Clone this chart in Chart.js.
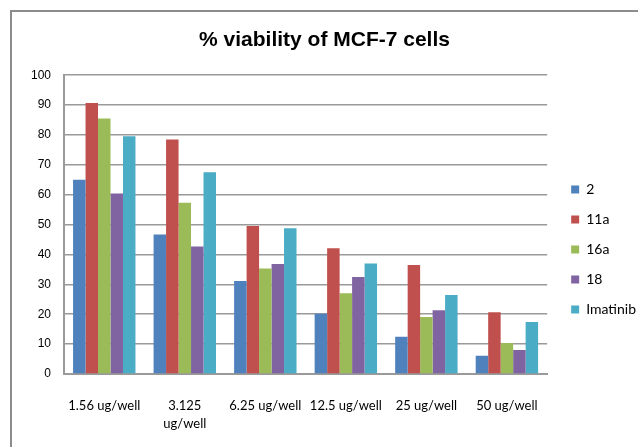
<!DOCTYPE html>
<html>
<head>
<meta charset="utf-8">
<script src="https://cdn.jsdelivr.net/npm/chart.js@4"></script>
<style>
  html, body { margin: 0; padding: 0; background: #fff; }
  #frame {
    position: absolute; left: 10px; top: 10px; width: 700px; height: 500px;
    border-left: 2px solid #8c8c8c; border-top: 2px solid #8c8c8c;
  }
  #wrap { position: absolute; left: 0; top: 0; width: 638px; height: 447px; }
</style>
</head>
<body>
<div id="frame"></div>
<div id="wrap"><canvas id="chart" width="638" height="447"></canvas></div>
<script>
const labels = ['1.56 ug/well', ['3.125', 'ug/well'], '6.25 ug/well', '12.5 ug/well', '25 ug/well', '50 ug/well'];
const series2 = [65, 46.7, 31.1, 20.2, 12.5, 6.1];
const series11a = [90.7, 78.5, 49.5, 42.1, 36.5, 20.7];
const series16a = [85.5, 57.3, 35.3, 27.0, 19.1, 10.4];
const series18 = [60.4, 42.7, 36.8, 32.5, 21.3, 8.0];
const seriesImatinib = [79.6, 67.5, 48.8, 37.0, 26.4, 17.4];

const calibri = "Lato, 'Open Sans', sans-serif";

const data = {
  labels: labels,
  datasets: [
    { label: '2', data: series2, backgroundColor: '#4F81BD' },
    { label: '11a', data: series11a, backgroundColor: '#C0504D' },
    { label: '16a', data: series16a, backgroundColor: '#9BBB59' },
    { label: '18', data: series18, backgroundColor: '#8064A2' },
    { label: 'Imatinib', data: seriesImatinib, backgroundColor: '#4BACC6' },
  ],
};

// nudge the legend to where the original sits
const legendShift = {
  id: 'legendShift',
  afterLayout(chart) {
    const lg = chart.legend;
    lg.left += 8; lg.right += 8;
    lg.top += 26; lg.bottom += 26;
  },
};

const config = {
  type: 'bar',
  data: data,
  plugins: [legendShift],
  options: {
    responsive: false,
    animation: false,
    layout: { padding: { left: 11, right: 0, top: 0, bottom: 0 } },
    datasets: {
      bar: { categoryPercentage: 0.775, barPercentage: 1.0, borderWidth: 0 },
    },
    plugins: {
      title: {
        display: true,
        text: '% viability of MCF-7 cells',
        color: '#000',
        font: { family: "'Liberation Sans', Arial", size: 21, weight: 'bold' },
        padding: { top: 28, bottom: 22 },
      },
      legend: {
        position: 'right',
        align: 'center',
        labels: {
          boxWidth: 8,
          boxHeight: 8,
          padding: 16,
          color: '#000',
          font: { family: calibri, size: 14, lineHeight: 1.25 },
        },
        afterFit: (legend) => { legend.width = 90; },
      },
      tooltip: { enabled: false },
    },
    scales: {
      x: {
        grid: { display: false, drawTicks: false },
        border: { display: true, color: '#9a9a9a', width: 2 },
        ticks: {
          color: '#000',
          padding: 23,
          maxRotation: 0,
          autoSkip: false,
          font: { family: calibri, size: 13, lineHeight: 1.35 },
        },
        afterFit: (scale) => { scale.height = 73; },
      },
      y: {
        min: 0,
        max: 100,
        grid: { color: '#9a9a9a', lineWidth: 1.5, drawTicks: false },
        border: { display: true, color: '#9a9a9a', width: 2 },
        ticks: {
          stepSize: 10,
          color: '#000',
          padding: 13,
          font: { family: "'Liberation Sans', Arial", size: 12 },
        },
        afterFit: (scale) => { scale.width = 53; },
      },
    },
  },
};

new Chart(document.getElementById('chart'), config);
</script>
</body>
</html>
